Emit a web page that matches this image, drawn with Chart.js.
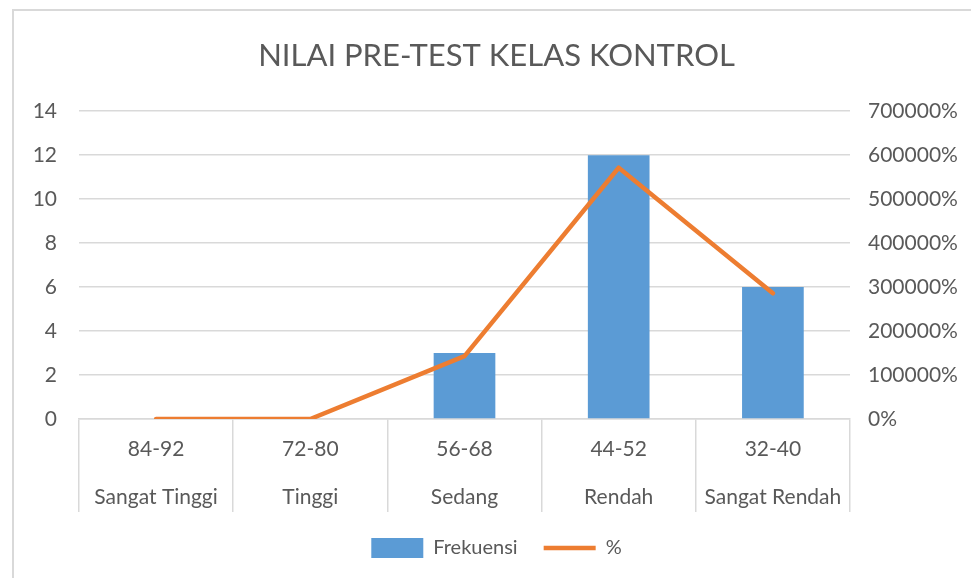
<!DOCTYPE html>
<html>
<head>
<meta charset="utf-8">
<script src="https://cdn.jsdelivr.net/npm/chart.js@4"></script>
<style>
  html, body { margin: 0; padding: 0; background: #fff; overflow: hidden; }
  #frame {
    position: absolute; left: 12px; top: 9px;
    width: 963px; height: 575px;
    border-left: 2px solid #d9d9d9; border-top: 2px solid #d9d9d9;
  }
  #wrap { position: absolute; left: 1px; top: 1px; width: 963px; height: 568px; }
</style>
</head>
<body>
<div id="frame">
  <div id="wrap"><canvas id="myChart"></canvas></div>
</div>
<script>
// values
var ranges = ['84-92', '72-80', '56-68', '44-52', '32-40'];
var levels = ['Sangat Tinggi', 'Tinggi', 'Sedang', 'Rendah', 'Sangat Rendah'];
var frekuensi = [0, 0, 3, 12, 6];
var persen = [0, 0, 142857, 571429, 285714];

var txt = '#595959';
var font = "Lato, 'Open Sans', sans-serif";

var labels = [];
for (var i = 0; i < ranges.length; i++) {
  labels.push([ranges[i], levels[i]]);
}

function makeChart() {
  var ctx = document.getElementById('myChart').getContext('2d');
  var chart = new Chart(ctx, {
    type: 'bar',
    data: {
      labels: labels,
      datasets: [{
        type: 'line',
        label: '%',
        data: persen,
        yAxisID: 'y1',
        borderColor: '#ed7d31',
        backgroundColor: '#ed7d31',
        borderWidth: 4.5,
        borderCapStyle: 'round',
        borderJoinStyle: 'round',
        pointRadius: 0,
        pointStyle: 'line',
        tension: 0,
        order: 0
      }, {
        label: 'Frekuensi',
        data: frekuensi,
        yAxisID: 'y',
        backgroundColor: '#5b9bd5',
        borderWidth: 0,
        pointStyle: 'rect',
        barPercentage: 0.4,
        categoryPercentage: 1,
        order: 1
      }]
    },
    options: {
      responsive: true,
      maintainAspectRatio: false,
      animation: false,
      layout: { padding: { left: 0, right: 0, top: 0, bottom: 12 } },
      plugins: {
        title: {
          display: true,
          text: 'NILAI PRE-TEST KELAS KONTROL',
          color: txt,
          font: { family: font, size: 31, weight: 'normal', lineHeight: 1.2 },
          padding: { top: 25, bottom: 37 }
        },
        legend: {
          position: 'bottom',
          reverse: true,
          labels: {
            color: txt,
            font: { family: font, size: 20 },
            usePointStyle: true,
            pointStyleWidth: 52,
            boxHeight: 21,
            padding: 26
          }
        },
        tooltip: { enabled: false }
      },
      scales: {
        x: {
          offset: true,
          grid: {
            offset: true,
            drawOnChartArea: false,
            tickLength: 93,
            color: '#d9d9d9',
            lineWidth: 1.5
          },
          border: { color: '#d9d9d9', width: 1.5 },
          ticks: {
            color: txt,
            font: { family: font, size: 21, lineHeight: 2.25 },
            padding: -86,
            maxRotation: 0,
            autoSkip: false
          },
          afterFit: function (axis) { axis.height = 93; }
        },
        y: {
          position: 'left',
          min: 0,
          max: 14,
          ticks: {
            stepSize: 2,
            color: txt,
            font: { family: font, size: 21 },
            padding: 22
          },
          grid: { color: '#d9d9d9', lineWidth: 1.5, drawTicks: false },
          border: { display: false },
          afterFit: function (axis) { axis.width = 64; }
        },
        y1: {
          position: 'right',
          min: 0,
          max: 700000,
          ticks: {
            stepSize: 100000,
            color: txt,
            font: { family: font, size: 21 },
            padding: 18,
            callback: function (v) { return v + '%'; }
          },
          grid: { display: false, drawTicks: false },
          border: { display: false },
          afterFit: function (axis) { axis.width = 128; }
        }
      }
    }
  });
  return chart;
}

window.addEventListener('load', function () {
  makeChart();
});
</script>
</body>
</html>
